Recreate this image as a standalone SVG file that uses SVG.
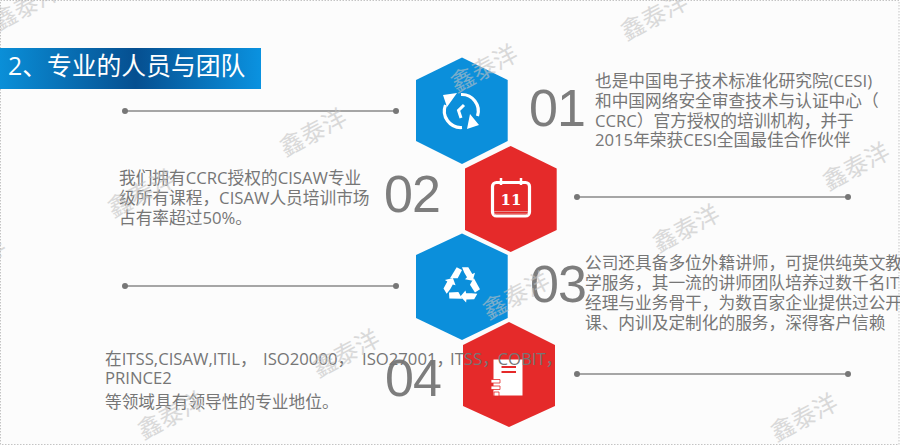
<svg xmlns="http://www.w3.org/2000/svg" width="900" height="446" viewBox="0 0 900 446">
<style>
.body{font-family:"Open Sans","Noto Sans CJK SC",sans-serif;font-size:16.7px;fill:#767676}
.num{font-family:"Liberation Sans",sans-serif;font-size:52px;letter-spacing:-1px;fill:#7d7d7d}
.wm{font-family:"Noto Sans CJK SC",sans-serif;font-size:24px;fill:#c2c2c2;opacity:.6;text-anchor:middle}
.ln{stroke:#8a8a8a;stroke-width:1.5}
.dot{fill:#777}
.blue{fill:#0b8fdb}
.red{fill:#e52a2a}
.ic{fill:none;stroke:#fff;stroke-width:3.2}
</style>
<defs>
<linearGradient id="bar" x1="0" y1="0" x2="1" y2="0">
<stop offset="0" stop-color="#0a8fd8"/><stop offset=".52" stop-color="#064f90"/><stop offset="1" stop-color="#0a92e0"/>
</linearGradient>
<g id="rec"><path d="M-12-6.700L-5.300-17.700L0-15L-4.300-6.700Z"/><path d="M0-17.700H6.300L10.300-11L13-12.300L10.700-4.300L3-5.700L5-7.700L2.300-12.300Z"/></g>
</defs>
<rect x="0.500" y="0.500" width="898.500" height="444" fill="#fcfcfc" stroke="#c4c4c4" stroke-dasharray="1.500 1.500"/>
<g id="title">
<rect x="0" y="48" width="261" height="41" fill="url(#bar)"/>
<text x="8" y="75" font-family="'Open Sans','Noto Sans CJK SC',sans-serif" font-size="24.800" fill="#fff">2、专业的人员与团队</text>
</g>
<g id="connectors">
<line class="ln" x1="125" y1="111" x2="396" y2="111"/><circle class="dot" cx="125" cy="111" r="3"/><circle class="dot" cx="396" cy="111" r="3"/>
<line class="ln" x1="577" y1="197" x2="848" y2="197"/><circle class="dot" cx="577" cy="197" r="3"/><circle class="dot" cx="848" cy="197" r="3"/>
<line class="ln" x1="125" y1="286" x2="396" y2="286"/><circle class="dot" cx="125" cy="286" r="3"/><circle class="dot" cx="396" cy="286" r="3"/>
<line class="ln" x1="577" y1="374" x2="848" y2="374"/><circle class="dot" cx="577" cy="374" r="3"/><circle class="dot" cx="848" cy="374" r="3"/>
</g>
<g id="node1">
<polygon class="blue" points="462,57.500 507.700,80 507.700,141 462,164 416,141 416,80"/>
<path class="ic" d="M445.500 105A16.500 16.500 0 0 0 462 127.500M477.500 116A16.500 16.500 0 0 0 461 94.500"/>
<path d="M443 95L457 93L447 107ZM479 125L467 129L470 114Z" fill="#fff"/>
<path d="M464 105L458.500 110.500L461 118" fill="none" stroke="#fff" stroke-width="3"/>
<text class="num" x="529" y="126">01</text>
<text class="body"><tspan x="595" y="87">也是中国电子技术标准化研究院(CESI)</tspan><tspan x="595" y="107">和中国网络安全审查技术与认证中心（</tspan><tspan x="595" y="126.500">CCRC）官方授权的培训机构，并于</tspan><tspan x="595" y="146">2015年荣获CESI全国最佳合作伙伴</tspan></text>
</g>
<g id="node2">
<polygon class="red" points="510.700,146 556.700,168.500 556.700,230 510.700,252 465,230 465,168.500"/>
<rect class="ic" x="492.500" y="182.500" width="37" height="33.500" rx="4"/>
<path d="M501 178V185M521 178V185" stroke="#fff" stroke-width="2.500"/>
<path d="M494 211.500H528M494 214H528" stroke="#e58a8a" stroke-width="1"/>
<text x="511" y="205" text-anchor="middle" font-family="'DejaVu Serif',serif" font-weight="700" font-size="15" fill="#fff">11</text>
<text class="num" x="384" y="212">02</text>
<text class="body"><tspan x="119" y="184">我们拥有CCRC授权的CISAW专业</tspan><tspan x="119" y="204">级所有课程，CISAW人员培训市场</tspan><tspan x="119" y="224">占有率超过50%。</tspan></text>
</g>
<g id="node3">
<polygon class="blue" points="462,233.500 507.700,255 507.700,318 462,340 416,318 416,255"/>
<g fill="#fff" transform="translate(462 285)">
<use href="#rec"/><use href="#rec" transform="rotate(120)"/><use href="#rec" transform="rotate(240)"/>
</g>
<text class="num" x="530" y="302">03</text>
<text class="body"><tspan x="585" y="269">公司还具备多位外籍讲师，可提供纯英文教</tspan><tspan x="585" y="289">学服务，其一流的讲师团队培养过数千名IT</tspan><tspan x="585" y="309">经理与业务骨干，为数百家企业提供过公开</tspan><tspan x="585" y="328.500">课、内训及定制化的服务，深得客户信赖</tspan></text>
</g>
<g id="node4">
<polygon class="red" points="509,322 555,345 555,406 509,427 463,406 463,345"/>
<rect x="493.500" y="359.500" width="29" height="36" fill="#fff"/>
<path d="M501.500 367H516M501.500 372H516" stroke="#e52a2a" stroke-width="1.800"/>
<path d="M491 379.500H500V383H491ZM491 386H500V389.500H491ZM494 392H499V396H494Z" fill="#fff" stroke="#e52a2a" stroke-width=".8"/>
<text class="num" x="385" y="396">04</text>
<text class="body"><tspan x="105" y="365">在ITSS,CISAW,ITIL，</tspan><tspan x="263" y="365">ISO20000，</tspan><tspan x="362" y="365">ISO27001，</tspan><tspan x="450" y="365">ITSS，</tspan><tspan x="497.500" y="365">COBIT，</tspan><tspan x="105" y="384">PRINCE2</tspan><tspan x="105" y="408">等领域具有领导性的专业地位。</tspan></text>
</g>
<g id="watermarks">
<text class="wm" transform="translate(30 14) rotate(-28)">鑫泰洋</text>
<text class="wm" transform="translate(317 140) rotate(-28)">鑫泰洋</text>
<text class="wm" transform="translate(145 201) rotate(-28)">鑫泰洋</text>
<text class="wm" transform="translate(488 76) rotate(-28)">鑫泰洋</text>
<text class="wm" transform="translate(658 24) rotate(-28)">鑫泰洋</text>
<text class="wm" transform="translate(860 174) rotate(-28)">鑫泰洋</text>
<text class="wm" transform="translate(690 236) rotate(-28)">鑫泰洋</text>
<text class="wm" transform="translate(-24 268) rotate(-28)">鑫泰洋</text>
<text class="wm" transform="translate(350 361) rotate(-28)">鑫泰洋</text>
<text class="wm" transform="translate(175 423) rotate(-28)">鑫泰洋</text>
<text class="wm" transform="translate(520 303) rotate(-28)">鑫泰洋</text>
<text class="wm" transform="translate(808 425) rotate(-28)">鑫泰洋</text>
</g>
</svg>
